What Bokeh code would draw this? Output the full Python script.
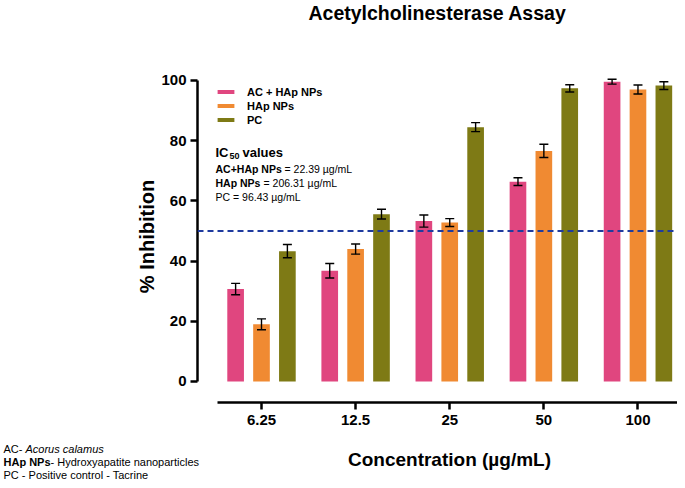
from bokeh.plotting import figure
from bokeh.layouts import column
from bokeh.models import (Range1d, FixedTicker, ColumnDataSource, Whisker, TeeHead,
                          Span, Label, Legend, LegendItem)
from bokeh.embed import file_html
from bokeh.resources import INLINE

# ---- data ----
concentrations = ["6.25", "12.5", "25", "50", "100"]
series_names = ["AC + HAp NPs", "HAp NPs", "PC"]
ac_hap = [30.7, 36.8, 53.3, 66.4, 99.6]
ac_hap_err = [1.9, 2.4, 2.0, 1.3, 0.8]
hap = [19.0, 44.0, 52.8, 76.6, 97.0]
hap_err = [1.8, 1.7, 1.3, 2.2, 1.5]
pc = [43.3, 55.6, 84.5, 97.4, 98.3]
pc_err = [2.2, 1.6, 1.5, 1.2, 1.3]
colors = ["#E0467F", "#F08A32", "#7E7A15"]
threshold = 50
y_ticks = [0, 20, 40, 60, 80, 100]

FONT = "Liberation Sans"
W = 677


def no_align(f):
    try:
        f.frame_align = False
    except Exception:
        pass


def blank_fig(h, y0, y1):
    f = figure(width=W, height=h, output_backend="svg", toolbar_location=None,
               x_axis_type=None, y_axis_type=None,
               x_range=Range1d(0, W), y_range=Range1d(y1, y0),
               min_border=0, min_border_left=0, min_border_right=0,
               min_border_top=0, min_border_bottom=0)
    f.outline_line_color = None
    f.grid.visible = False
    no_align(f)
    return f


def add_text(f, text, x, y, size, style="normal", align="left", xo=0, yo=0):
    f.add_layout(Label(x=x, y=y, text=text, x_offset=xo, y_offset=yo,
                       text_font=FONT, text_font_style=style,
                       text_font_size=size, text_align=align,
                       text_baseline="middle", text_color="black"))


# ---- top strip: title ----
top = blank_fig(70, 0, 70)
add_text(top, "Acetylcholinesterase Assay", 308, 12, "19.5px", "bold")

# ---- main chart ----
p = figure(frame_width=480, frame_height=332, output_backend="svg", toolbar_location=None,
           x_range=Range1d(-0.18, 4.92), y_range=Range1d(-6.977, 103.32),
           min_border_left=197, min_border_right=0, min_border_top=0, min_border_bottom=30)
no_align(p)
p.xgrid.visible = False
p.ygrid.visible = False
p.outline_line_color = None

xa = p.xaxis[0]
xa.ticker = FixedTicker(ticks=[i + 0.5 for i in range(len(concentrations))])
xa.major_label_overrides = {i + 0.5: c for i, c in enumerate(concentrations)}
xa.bounds = (0.03, 4.92)
ya = p.yaxis[0]
ya.ticker = FixedTicker(ticks=y_ticks)
ya.bounds = (0, 100)
for ax in (xa, ya):
    ax.axis_line_width = 2.5
    ax.axis_line_color = "black"
    ax.major_tick_line_width = 2.5
    ax.major_tick_line_color = "black"
    ax.major_tick_out = 7
    ax.major_tick_in = 0
    ax.minor_tick_line_color = None
    ax.major_label_text_font = FONT
    ax.major_label_text_font_style = "bold"
    ax.major_label_text_font_size = "15px"
    ax.major_label_text_color = "black"
xa.major_label_standoff = 5
ya.major_label_standoff = 4
ya.axis_label = "% Inhibition"
ya.axis_label_text_font = FONT
ya.axis_label_text_font_style = "bold"
ya.axis_label_text_font_size = "20px"
ya.axis_label_text_color = "black"
ya.axis_label_standoff = 0

offsets = [-0.275, 0.0, 0.275]
vals = [ac_hap, hap, pc]
errs = [ac_hap_err, hap_err, pc_err]
renderers = []
for name, v, e, off, col in zip(series_names, vals, errs, offsets, colors):
    xs = [i + 0.5 + off for i in range(len(concentrations))]
    src = ColumnDataSource(dict(x=xs, top=v,
                                upper=[a + b for a, b in zip(v, e)],
                                lower=[a - b for a, b in zip(v, e)]))
    r = p.vbar(x="x", top="top", bottom=0, width=0.177, source=src,
               fill_color=col, line_color=None)
    renderers.append(r)
    w = Whisker(source=src, base="x", upper="upper", lower="lower",
                line_color="black", line_width=1.4, level="annotation",
                upper_head=TeeHead(size=9, line_color="black", line_width=1.4),
                lower_head=TeeHead(size=9, line_color="black", line_width=1.4))
    p.add_layout(w)

p.add_layout(Span(location=threshold, dimension="width", line_color="#1f3b9f",
                  line_dash="6 4", line_width=2))

legend = Legend(items=[LegendItem(label=n, renderers=[r]) for n, r in zip(series_names, renderers)],
                location=(18, 276), orientation="vertical",
                glyph_width=21, glyph_height=5, label_height=13, spacing=1,
                label_standoff=11, padding=0, margin=0,
                border_line_color=None, background_fill_alpha=0,
                label_text_font=FONT, label_text_font_style="bold",
                label_text_font_size="11px", label_text_color="black")
p.add_layout(legend)


def dx(px):
    return -0.18 + (px - 197) / 94.1


def dy(py):
    return (381 - py) / 3.01


def lab(text, px, py, size, style="normal", xo=0, yo=0):
    add_text(p, text, dx(px), dy(py), size, style, "left", xo, yo)


lab("IC", 215, 152, "13px", "bold")
lab("50", 215, 152, "9px", "bold", xo=14, yo=-4)
lab("values", 215, 152, "13px", "bold", xo=27)
lab("AC+HAp NPs", 215, 169, "10.5px", "bold")
lab("= 22.39 \u00b5g/mL", 215, 169, "10.5px", xo=69)
lab("HAp NPs", 215, 183, "10.5px", "bold")
lab("= 206.31 \u00b5g/mL", 215, 183, "10.5px", xo=48)
lab("PC = 96.43 \u00b5g/mL", 215, 197, "10.5px")

# ---- bottom strip: x-axis title and footnotes ----
bot = blank_fig(48, 432, 480)
add_text(bot, "Concentration (\u00b5g/mL)", 449, 459, "19px", "bold", "center")
add_text(bot, "AC-", 3, 448, "11px")
add_text(bot, "Acorus calamus", 3, 448, "11px", "italic", xo=22)
add_text(bot, "HAp NPs", 3, 461, "11px", "bold")
add_text(bot, "- Hydroxyapatite nanoparticles", 3, 461, "11px", xo=47)
add_text(bot, "PC - Positive control - Tacrine", 3, 474, "11px")

layout = column(top, p, bot, spacing=0)
open("out.html", "w").write(file_html(layout, INLINE))
